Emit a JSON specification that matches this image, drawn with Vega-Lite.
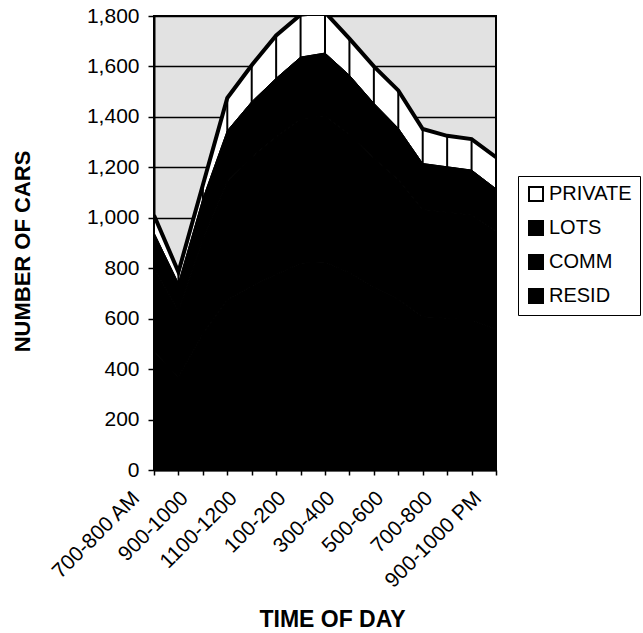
{
  "$schema": "https://vega.github.io/schema/vega-lite/v6.json",
  "width": 342,
  "height": 454,
  "autosize": "none",
  "padding": {"left": 154, "top": 16, "right": 147, "bottom": 163},
  "background": "white",
  "config": {
    "font": "Liberation Sans",
    "view": {"fill": "#e2e2e2", "stroke": "black", "strokeWidth": 2},
    "legend": {"strokeColor": "black", "fillColor": "white"}
  },
  "data": {
    "values": [
      {"time": "700-800 AM", "series": "PRIVATE", "cars": 70},
      {"time": "700-800 AM", "series": "LOTS", "cars": 140},
      {"time": "700-800 AM", "series": "COMM", "cars": 330},
      {"time": "700-800 AM", "series": "RESID", "cars": 470},
      {"time": "800-900", "series": "PRIVATE", "cars": 45},
      {"time": "800-900", "series": "LOTS", "cars": 110},
      {"time": "800-900", "series": "COMM", "cars": 260},
      {"time": "800-900", "series": "RESID", "cars": 370},
      {"time": "900-1000", "series": "PRIVATE", "cars": 55},
      {"time": "900-1000", "series": "LOTS", "cars": 160},
      {"time": "900-1000", "series": "COMM", "cars": 375},
      {"time": "900-1000", "series": "RESID", "cars": 540},
      {"time": "1000-1100", "series": "PRIVATE", "cars": 130},
      {"time": "1000-1100", "series": "LOTS", "cars": 200},
      {"time": "1000-1100", "series": "COMM", "cars": 470},
      {"time": "1000-1100", "series": "RESID", "cars": 675},
      {"time": "1100-1200", "series": "PRIVATE", "cars": 145},
      {"time": "1100-1200", "series": "LOTS", "cars": 220},
      {"time": "1100-1200", "series": "COMM", "cars": 510},
      {"time": "1100-1200", "series": "RESID", "cars": 730},
      {"time": "1200-100", "series": "PRIVATE", "cars": 170},
      {"time": "1200-100", "series": "LOTS", "cars": 233},
      {"time": "1200-100", "series": "COMM", "cars": 545},
      {"time": "1200-100", "series": "RESID", "cars": 775},
      {"time": "100-200", "series": "PRIVATE", "cars": 168},
      {"time": "100-200", "series": "LOTS", "cars": 245},
      {"time": "100-200", "series": "COMM", "cars": 572},
      {"time": "100-200", "series": "RESID", "cars": 820},
      {"time": "200-300", "series": "PRIVATE", "cars": 162},
      {"time": "200-300", "series": "LOTS", "cars": 248},
      {"time": "200-300", "series": "COMM", "cars": 580},
      {"time": "200-300", "series": "RESID", "cars": 825},
      {"time": "300-400", "series": "PRIVATE", "cars": 145},
      {"time": "300-400", "series": "LOTS", "cars": 235},
      {"time": "300-400", "series": "COMM", "cars": 548},
      {"time": "300-400", "series": "RESID", "cars": 782},
      {"time": "400-500", "series": "PRIVATE", "cars": 146},
      {"time": "400-500", "series": "LOTS", "cars": 218},
      {"time": "400-500", "series": "COMM", "cars": 510},
      {"time": "400-500", "series": "RESID", "cars": 726},
      {"time": "500-600", "series": "PRIVATE", "cars": 150},
      {"time": "500-600", "series": "LOTS", "cars": 203},
      {"time": "500-600", "series": "COMM", "cars": 475},
      {"time": "500-600", "series": "RESID", "cars": 677},
      {"time": "600-700", "series": "PRIVATE", "cars": 137},
      {"time": "600-700", "series": "LOTS", "cars": 182},
      {"time": "600-700", "series": "COMM", "cars": 425},
      {"time": "600-700", "series": "RESID", "cars": 608},
      {"time": "700-800", "series": "PRIVATE", "cars": 123},
      {"time": "700-800", "series": "LOTS", "cars": 180},
      {"time": "700-800", "series": "COMM", "cars": 420},
      {"time": "700-800", "series": "RESID", "cars": 602},
      {"time": "800-900 PM", "series": "PRIVATE", "cars": 123},
      {"time": "800-900 PM", "series": "LOTS", "cars": 178},
      {"time": "800-900 PM", "series": "COMM", "cars": 416},
      {"time": "800-900 PM", "series": "RESID", "cars": 595},
      {"time": "900-1000 PM", "series": "PRIVATE", "cars": 125},
      {"time": "900-1000 PM", "series": "LOTS", "cars": 167},
      {"time": "900-1000 PM", "series": "COMM", "cars": 390},
      {"time": "900-1000 PM", "series": "RESID", "cars": 558}
    ]
  },
  "encoding": {
    "x": {
      "field": "time",
      "type": "ordinal",
      "sort": ["700-800 AM", "800-900", "900-1000", "1000-1100", "1100-1200", "1200-100", "100-200", "200-300", "300-400", "400-500", "500-600", "600-700", "700-800", "800-900 PM", "900-1000 PM"],
      "scale": {"type": "point", "padding": 0},
      "axis": {
        "title": "TIME OF DAY",
        "titleFont": "Liberation Sans",
        "titleFontSize": 23,
        "titleFontWeight": "bold",
        "titleColor": "black",
        "titleX": 178,
        "titleY": 149,
        "titleBaseline": "middle",
        "titleAlign": "center",
        "labelAngle": -45,
        "labelFontSize": 21,
        "labelColor": "black",
        "labelOffset": -26,
        "labelPadding": 12,
        "labelOverlap": false,
        "labelExpr": "indexof(['700-800 AM','900-1000','1100-1200','100-200','300-400','500-600','700-800','900-1000 PM'], datum.value) >= 0 ? datum.value : ''",
        "tickSize": 5,
        "tickColor": "black",
        "tickWidth": 1.5,
        "domainColor": "black",
        "domainWidth": 2,
        "grid": false
      }
    }
  },
  "layer": [
    {
      "transform": [{"calculate": "indexof(['RESID','COMM','LOTS','PRIVATE'], datum.series)", "as": "stack_order"}],
      "mark": {"type": "area", "clip": true, "stroke": "black", "strokeWidth": 1},
      "encoding": {
        "y": {
          "aggregate": "sum",
          "field": "cars",
          "type": "quantitative",
          "stack": "zero",
          "scale": {"domain": [0, 1800], "nice": false},
          "axis": {
            "title": "NUMBER OF CARS",
            "titleFont": "Liberation Sans",
            "titleFontSize": 22,
            "titleFontWeight": "bold",
            "titleColor": "black",
            "titleX": -132,
            "titleY": 235,
            "titleAngle": -90,
            "titleAlign": "center",
            "titleBaseline": "middle",
            "values": [0, 200, 400, 600, 800, 1000, 1200, 1400, 1600, 1800],
            "format": ",.0f",
            "labelFontSize": 21,
            "labelColor": "black",
            "labelPadding": 9,
            "tickSize": 6,
            "tickColor": "black",
            "tickWidth": 1.5,
            "domainColor": "black",
            "domainWidth": 2,
            "grid": true,
            "gridColor": "black",
            "gridWidth": 1.5,
            "gridOpacity": 1
          }
        },
        "order": {"field": "stack_order", "type": "quantitative", "sort": "ascending"},
        "color": {
          "field": "series",
          "type": "nominal",
          "scale": {"domain": ["PRIVATE", "LOTS", "COMM", "RESID"], "range": ["white", "black", "black", "black"]},
          "legend": {
            "title": null,
            "orient": "none",
            "legendX": 364,
            "legendY": 160,
            "symbolType": "square",
            "symbolSize": 196,
            "symbolStrokeColor": "black",
            "symbolStrokeWidth": 2,
            "symbolOpacity": 1,
            "labelFontSize": 20,
            "labelColor": "black",
            "labelOffset": 3,
            "rowPadding": 12,
            "padding": 8
          }
        }
      }
    },
    {
      "transform": [{"aggregate": [{"op": "sum", "field": "cars", "as": "total"}], "groupby": ["time"]}],
      "mark": {"type": "rule", "clip": true, "color": "black", "strokeWidth": 2},
      "encoding": {
        "y": {"field": "total", "type": "quantitative"},
        "y2": {"datum": 0}
      }
    },
    {
      "transform": [{"aggregate": [{"op": "sum", "field": "cars", "as": "total"}], "groupby": ["time"]}],
      "mark": {"type": "line", "clip": true, "color": "black", "strokeWidth": 4},
      "encoding": {
        "y": {"field": "total", "type": "quantitative"}
      }
    }
  ]
}
